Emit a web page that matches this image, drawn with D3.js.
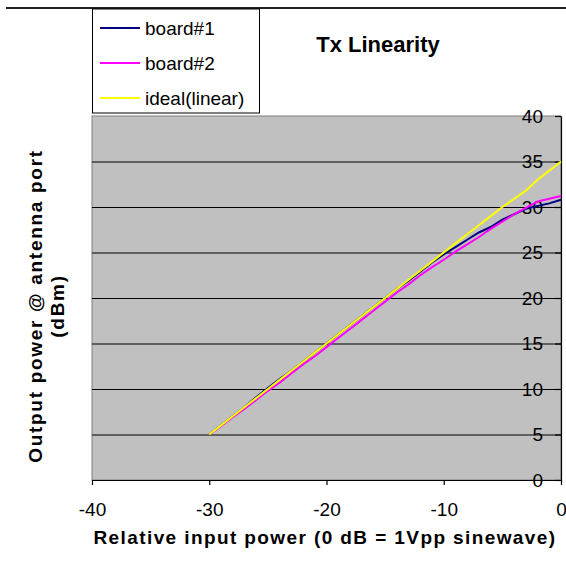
<!DOCTYPE HTML>
<html lang="en">

    <head>
        <meta charset="utf-8" />
        <title>Tx Linearity</title>
        <style>
            body { margin: 0; background: #fff; }
            text { font-family: 'Liberation Sans', Arial, sans-serif; }
        </style>
    </head>

    <body>
        <div id="chart"></div>
        <script type="text/javascript" src="https://d3js.org/d3.v7.min.js"></script>
        <script>
            const inputDb = [-30, -29, -28, -27, -26, -25, -24, -23, -22, -21, -20, -19, -18, -17, -16, -15,
                -14, -13, -12, -11, -10, -9, -8, -7, -6, -5, -4, -3, -2, -1, 0];
            const board1 = [5.0, 6.0, 7.0, 8.0, 9.1, 10.1, 11.1, 12.0, 13.0, 14.0, 15.0, 16.0, 17.0, 18.0, 19.0, 20.0,
                21.0, 21.9, 22.9, 23.9, 24.8, 25.6, 26.4, 27.2, 27.8, 28.6, 29.2, 29.8, 30.1, 30.4, 30.8];
            const board2 = [5.0, 5.9, 6.9, 7.8, 8.8, 9.8, 10.7, 11.7, 12.7, 13.6, 14.6, 15.6, 16.6, 17.6, 18.6, 19.6,
                20.6, 21.5, 22.5, 23.4, 24.2, 25.1, 25.9, 26.7, 27.6, 28.4, 29.2, 29.9, 30.6, 30.9, 31.2];
            const ideal = [5, 6, 7, 8, 9, 10, 11, 12, 13, 14, 15, 16, 17, 18, 19, 20,
                21, 22, 23, 24, 25, 26, 27, 28, 29, 30, 30.9, 31.8, 33, 34, 35];
            const seriesNames = ['board#1', 'board#2', 'ideal(linear)'];
            const seriesColors = ['#000080', '#ff00ff', '#ffff00'];
            const xTicks = [-40, -30, -20, -10, 0];
            const yTicks = [0, 5, 10, 15, 20, 25, 30, 35, 40];

            const width = 566;
            const height = 563;
            const plot = { left: 92, right: 561, top: 116, bottom: 480 };

            const svg = d3.select('#chart')
                .append('svg')
                .attr('width', width)
                .attr('height', height);

            const x = d3.scaleLinear().domain([-40, 0]).range([plot.left, plot.right]);
            const y = d3.scaleLinear().domain([0, 40]).range([plot.bottom, plot.top]);

            // top border of chart area
            svg.append('line')
                .attr('x1', 6).attr('x2', width)
                .attr('y1', 8).attr('y2', 8)
                .attr('stroke', '#222')
                .attr('stroke-width', 2);

            svg.append('rect')
                .attr('x', plot.left)
                .attr('y', plot.top)
                .attr('width', plot.right - plot.left)
                .attr('height', plot.bottom - plot.top)
                .attr('fill', '#c0c0c0')
                .attr('stroke', '#808080');

            svg.append('g')
                .selectAll('line')
                .data(yTicks.filter(d => d > 0 && d < 40))
                .enter()
                .append('line')
                .attr('x1', plot.left)
                .attr('x2', plot.right)
                .attr('y1', d => y(d) + 0.5)
                .attr('y2', d => y(d) + 0.5)
                .attr('stroke', '#000')
                .attr('stroke-width', 1);

            const yAxis = svg.append('g')
                .attr('transform', `translate(${plot.right}, 0)`)
                .call(d3.axisLeft(y).tickValues(yTicks).tickFormat(d => String(d))
                    .tickSize(6).tickSizeOuter(0).tickPadding(12));

            const xAxis = svg.append('g')
                .attr('transform', `translate(0, ${plot.bottom})`)
                .call(d3.axisBottom(x).tickValues(xTicks).tickFormat(d => String(d))
                    .tickSize(5).tickSizeOuter(0).tickPadding(18));

            [yAxis, xAxis].forEach(ax => {
                ax.selectAll('path, line').attr('stroke', '#000').attr('stroke-width', 1.2);
                ax.selectAll('text')
                    .attr('fill', '#000')
                    .style('font-size', '19px')
                    .style('font-family', "'Liberation Sans', Arial, sans-serif");
            });

            const line = d3.line()
                .x((d, i) => x(inputDb[i]))
                .y(d => y(d));

            [board1, board2, ideal].forEach((values, i) => {
                svg.append('path')
                    .datum(values)
                    .attr('d', line)
                    .attr('fill', 'none')
                    .attr('stroke', seriesColors[i])
                    .attr('stroke-width', 2);
            });

            // legend
            svg.append('rect')
                .attr('x', 92.5)
                .attr('y', 9)
                .attr('width', 167)
                .attr('height', 104)
                .attr('fill', '#fff')
                .attr('stroke', '#000');

            const legend = svg.selectAll('.legend')
                .data(seriesNames)
                .enter()
                .append('g')
                .attr('class', 'legend')
                .attr('transform', (d, i) => `translate(100, ${28 + i * 35})`);

            legend.append('line')
                .attr('x1', 0).attr('x2', 40)
                .attr('stroke', (d, i) => seriesColors[i])
                .attr('stroke-width', 2);

            legend.append('text')
                .attr('x', 45)
                .attr('y', 7)
                .style('font-size', '19px')
                .text(d => d);

            svg.append('text')
                .attr('x', 378)
                .attr('y', 52)
                .attr('text-anchor', 'middle')
                .style('font-size', '22px')
                .style('font-weight', 'bold')
                .text('Tx Linearity');

            svg.append('text')
                .attr('x', 325)
                .attr('y', 544)
                .attr('text-anchor', 'middle')
                .style('font-size', '19px')
                .style('font-weight', 'bold')
                .style('letter-spacing', '1.4px')
                .text('Relative input power (0 dB = 1Vpp sinewave)');

            const yTitle = svg.append('text')
                .attr('transform', `translate(35, 306) rotate(-90)`)
                .attr('text-anchor', 'middle')
                .style('font-size', '19px')
                .style('font-weight', 'bold')
                .style('letter-spacing', '1.7px');

            yTitle.append('tspan')
                .attr('x', 0)
                .attr('dy', '0.35em')
                .text('Output power @ antenna port');

            yTitle.append('tspan')
                .attr('x', 0)
                .attr('dy', '1.2em')
                .text('(dBm)');
        </script>
    </body>

</html>
